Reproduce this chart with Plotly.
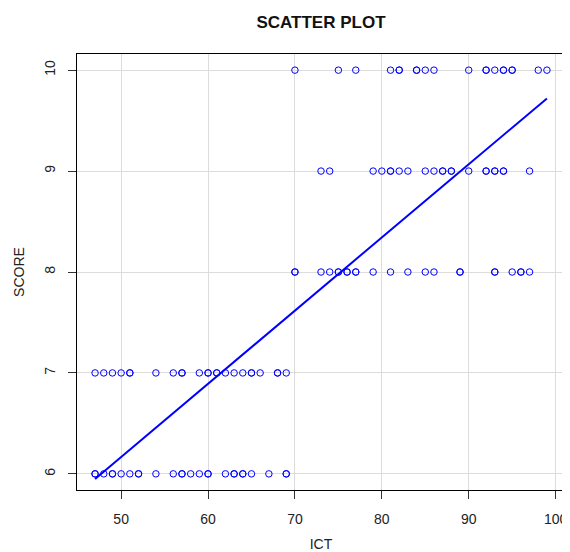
import plotly.graph_objects as go

# ICT values for each SCORE level (duplicates = overplotted points)
ict_score10 = [70, 75, 77, 81, 82, 82, 84, 84, 85, 86, 90, 92, 92, 93, 94, 94, 95, 95, 98, 99]
ict_score9 = [73, 74, 79, 80, 81, 81, 82, 83, 85, 86, 87, 87, 88, 88, 90, 92, 92, 93, 93, 94, 94, 97]
ict_score8 = [70, 70, 73, 74, 75, 75, 76, 76, 77, 77, 79, 81, 83, 85, 86, 89, 89, 93, 93, 95, 96, 96, 97]
ict_score7 = [47, 48, 49, 50, 51, 51, 54, 56, 57, 57, 59, 60, 60, 61, 61, 62, 63, 64, 65, 65, 66, 68, 68, 69]
ict_score6 = [47, 47, 48, 49, 49, 50, 51, 52, 52, 54, 56, 57, 57, 58, 59, 60, 60, 62, 63, 63, 64, 64, 65, 67, 69, 69]

score_levels = [10, 9, 8, 7, 6]

# fitted regression line
fit_x = [47, 99]
fit_y = [5.95, 9.72]

x_ticks = [50, 60, 70, 80, 90, 100]
y_ticks = [6, 7, 8, 9, 10]

ict_all = []
score_all = []
for lvl, vals in zip(score_levels, [ict_score10, ict_score9, ict_score8, ict_score7, ict_score6]):
    ict_all += vals
    score_all += [lvl] * len(vals)

FONT = "Liberation Sans, Arial, sans-serif"

# The page body has an 8px default margin, so the figure is sized to fit the window.
fig = go.Figure()
fig.add_trace(go.Scatter(
    x=ict_all, y=score_all, mode="markers",
    marker=dict(symbol="circle-open", size=6.5, color="#0000FF", line=dict(width=1, color="#0000FF")),
    showlegend=False, hoverinfo="x+y"))
fig.add_trace(go.Scatter(
    x=fit_x, y=fit_y, mode="lines",
    line=dict(color="#0000FF", width=2), showlegend=False))

fig.update_layout(
    width=562, height=544,
    margin=dict(l=69, r=5, t=46, b=62, autoexpand=False),
    paper_bgcolor="white", plot_bgcolor="white",
    font=dict(family=FONT, size=14, color="#222222"),
    title=dict(text="<b>SCATTER PLOT</b>", x=0.5, xref="paper", xanchor="center",
               y=1 - 14 / 544, yref="container", yanchor="middle", automargin=False,
               font=dict(family=FONT, size=17, color="#111111")),
)
fig.update_xaxes(
    range=[44.92, 101.08], tickvals=x_ticks, ticktext=[str(v) for v in x_ticks],
    showgrid=True, gridcolor="#dcdcdc", gridwidth=1, zeroline=False,
    showline=True, mirror=True, linecolor="black", linewidth=1,
    ticks="outside", ticklen=8, tickcolor="#333333", tickwidth=1,
    ticklabelstandoff=8, automargin=False,
    title=dict(text="ICT", standoff=31, font=dict(size=14)),
)
fig.update_yaxes(
    range=[5.84, 10.16], tickvals=y_ticks, ticktext=[str(v) for v in y_ticks],
    tickangle=-90,
    showgrid=True, gridcolor="#dcdcdc", gridwidth=1, zeroline=False,
    showline=True, mirror=True, linecolor="black", linewidth=1,
    ticks="outside", ticklen=8, tickcolor="#333333", tickwidth=1,
    ticklabelstandoff=7, automargin=False,
    title=dict(text="SCORE", standoff=14, font=dict(size=14)),
)

fig.write_html("out.html")
